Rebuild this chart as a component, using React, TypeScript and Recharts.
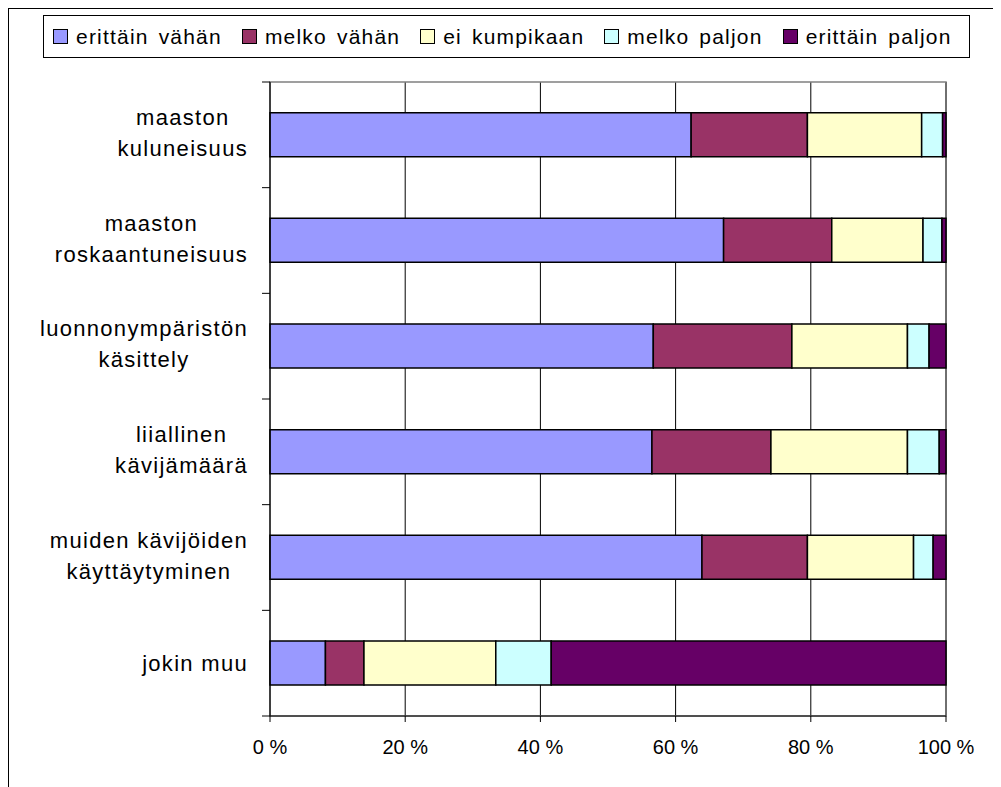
import { BarChart, Bar, XAxis, YAxis, CartesianGrid, ReferenceArea } from 'recharts';

const categories = [
  'maaston\nkuluneisuus',
  'maaston\nroskaantuneisuus',
  'luonnonympäristön\nkäsittely',
  'liiallinen\nkävijämäärä',
  'muiden kävijöiden\nkäyttäytyminen',
  'jokin muu',
];

const erittainVahan = [62.3, 67.1, 56.7, 56.5, 63.9, 8.2];
const melkoVahan = [17.2, 16.0, 20.5, 17.6, 15.6, 5.7];
const eiKumpikaan = [16.9, 13.5, 17.1, 20.2, 15.7, 19.5];
const melkoPaljon = [3.1, 2.8, 3.2, 4.7, 2.9, 8.2];
const erittainPaljon = [0.5, 0.6, 2.5, 1.0, 1.9, 58.4];

const xTicks = [0, 20, 40, 60, 80, 100];

const series = [
  { key: 'ev', name: 'erittäin vähän', color: '#9999FF', values: erittainVahan },
  { key: 'mv', name: 'melko vähän', color: '#993366', values: melkoVahan },
  { key: 'ek', name: 'ei kumpikaan', color: '#FFFFCC', values: eiKumpikaan },
  { key: 'mp', name: 'melko paljon', color: '#CCFFFF', values: melkoPaljon },
  { key: 'ep', name: 'erittäin paljon', color: '#660066', values: erittainPaljon },
];

const data = categories.map((name, i) => {
  const row: Record<string, string | number> = { name };
  series.forEach((s) => {
    row[s.key] = s.values[i];
  });
  return row;
});

const FONT = "'Liberation Sans', Arial, sans-serif";
const W = 992;
const H = 778;
const MARGIN = { top: 73, right: 55, bottom: 41, left: 0 };
const X_AXIS_H = 30;
const Y_AXIS_W = 261;
const PLOT_H = H - MARGIN.top - MARGIN.bottom - X_AXIS_H;
const HALF_BAND = PLOT_H / categories.length / 2;

const LABEL_SIZE = 22;
const LABEL_SPACING = 1.3;

let ctx: CanvasRenderingContext2D | null = null;
function textWidth(t: string) {
  if (!ctx) ctx = document.createElement('canvas').getContext('2d');
  if (!ctx) return t.length * LABEL_SIZE * 0.5;
  ctx.font = `${LABEL_SIZE}px 'Liberation Sans', Arial, sans-serif`;
  return ctx.measureText(t).width + t.length * LABEL_SPACING;
}

function CategoryTick(props: any) {
  const { x, y, payload, index } = props;
  const lines: string[] = String(payload.value).split('\n');
  const blockW = Math.max(...lines.map(textWidth));
  const cx = x - blockW / 2;
  const axisX = x + 22;
  const baselines = lines.length === 1 ? [y + 8] : [y - 10, y + 21];
  return (
    <g>
      <line x1={axisX - 8} x2={axisX} y1={y - HALF_BAND} y2={y - HALF_BAND} stroke="#000" />
      {index === categories.length - 1 && (
        <line x1={axisX - 8} x2={axisX} y1={y + HALF_BAND} y2={y + HALF_BAND} stroke="#000" />
      )}
      {lines.map((l, i) => (
        <text
          key={i}
          x={cx}
          y={baselines[i]}
          textAnchor="middle"
          fontSize={LABEL_SIZE}
          fontFamily={FONT}
          letterSpacing={LABEL_SPACING}
          fill="#000"
        >
          {l}
        </text>
      ))}
    </g>
  );
}

function LegendBox() {
  return (
    <div
      style={{
        position: 'absolute',
        left: 34,
        top: 6,
        width: 927,
        height: 43,
        boxSizing: 'border-box',
        border: '1px solid #000',
        background: '#fff',
        display: 'flex',
        alignItems: 'center',
        paddingLeft: 9,
        fontFamily: FONT,
        fontSize: 21,
        letterSpacing: 1.2,
        wordSpacing: 3,
        whiteSpace: 'nowrap',
      }}
    >
      {series.map((s) => (
        <div key={s.key} style={{ display: 'flex', alignItems: 'center', marginRight: 20 }}>
          <span
            style={{
              display: 'inline-block',
              width: 13,
              height: 13,
              border: '1px solid #000',
              background: s.color,
              marginRight: 8,
            }}
          />
          <span>{s.name}</span>
        </div>
      ))}
    </div>
  );
}

export default function App() {
  return (
    <div
      style={{
        position: 'relative',
        width: W,
        height: H,
        borderLeft: '1px solid #000',
        borderTop: '1px solid #000',
        background: '#fff',
        overflow: 'hidden',
      }}
    >
      <BarChart
        width={W}
        height={H}
        data={data}
        layout="vertical"
        margin={MARGIN}
        barCategoryGap="29%"
      >
        <CartesianGrid horizontal={false} stroke="#000" />
        <ReferenceArea x1={0} x2={100} fill="none" stroke="#808080" strokeWidth={1.5} />
        <XAxis
          type="number"
          domain={[0, 100]}
          ticks={xTicks}
          height={X_AXIS_H}
          tickFormatter={(v: number) => `${v} %`}
          tick={{ fontSize: 20, fill: '#000', fontFamily: FONT }}
          tickSize={6}
          tickMargin={18}
          stroke="#000"
          axisLine={{ stroke: '#000' }}
          tickLine={{ stroke: '#000' }}
        />
        <YAxis
          type="category"
          dataKey="name"
          width={Y_AXIS_W}
          tickSize={8}
          tickMargin={14}
          tickLine={false}
          axisLine={{ stroke: '#000' }}
          tick={<CategoryTick />}
          interval={0}
        />
        {series.map((s) => (
          <Bar
            key={s.key}
            dataKey={s.key}
            name={s.name}
            stackId="a"
            fill={s.color}
            stroke="#000"
            strokeWidth={1.5}
            isAnimationActive={false}
          />
        ))}
      </BarChart>
      <LegendBox />
    </div>
  );
}
